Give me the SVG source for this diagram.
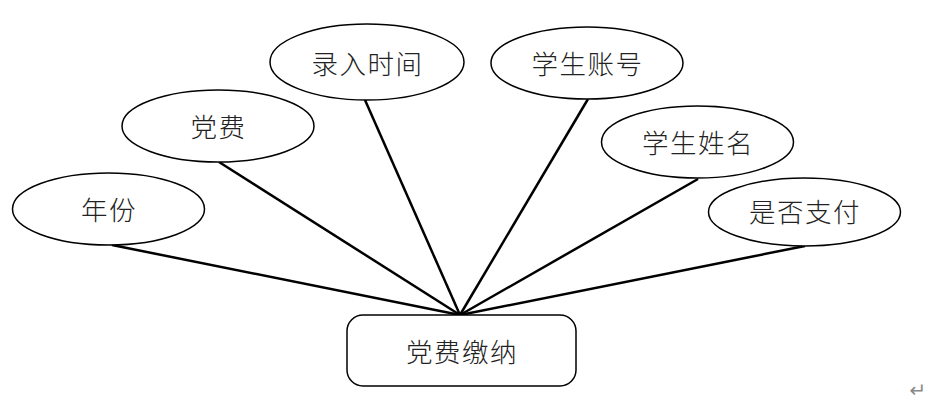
<svg xmlns="http://www.w3.org/2000/svg" width="941" height="408" viewBox="0 0 941 408">
<style>
.attr{fill:#fff;stroke:#000;stroke-width:1.5}
.ent{fill:#fff;stroke:#000;stroke-width:1.5}
.lbl{font-family:"Noto Sans CJK SC","Noto Sans",sans-serif;font-size:26.5px;font-weight:300;fill:#222;text-anchor:middle;dominant-baseline:central;letter-spacing:1.5px}
.conn line{stroke:#000;stroke-width:2.5}
</style>
<rect width="941" height="408" fill="#fff"/>
<g class="conn">
<line x1="112" y1="245" x2="460" y2="315"/>
<line x1="219" y1="162" x2="460" y2="315"/>
<line x1="365" y1="100" x2="460" y2="315"/>
<line x1="588" y1="99" x2="460" y2="315"/>
<line x1="698" y1="179" x2="460" y2="315"/>
<line x1="805" y1="246" x2="460" y2="315"/>
</g>
<g id="n-nianfen"><ellipse class="attr" cx="108.5" cy="209" rx="96" ry="36"/><text class="lbl" x="109" y="208">年份</text></g>
<g id="n-dangfei"><ellipse class="attr" cx="218" cy="126" rx="96" ry="36"/><text class="lbl" x="218.5" y="125">党费</text></g>
<g id="n-lurushijian"><ellipse class="attr" cx="367" cy="62" rx="97" ry="38"/><text class="lbl" x="367.5" y="62">录入时间</text></g>
<g id="n-xueshengzhanghao"><ellipse class="attr" cx="587" cy="63" rx="96" ry="36"/><text class="lbl" x="587.5" y="62">学生账号</text></g>
<g id="n-xueshengxingming"><ellipse class="attr" cx="697.5" cy="142" rx="96" ry="36"/><text class="lbl" x="698" y="141">学生姓名</text></g>
<g id="n-shifouzhifu"><ellipse class="attr" cx="804.5" cy="212" rx="96" ry="34"/><text class="lbl" x="805" y="210">是否支付</text></g>
<g id="n-dangfeijiaona"><rect class="ent" x="347" y="315" width="229" height="71" rx="16"/><text class="lbl" x="462" y="350">党费缴纳</text></g>
<text x="918" y="397" font-family="'DejaVu Sans',sans-serif" font-size="20" fill="#888" text-anchor="middle">↵</text>
</svg>
